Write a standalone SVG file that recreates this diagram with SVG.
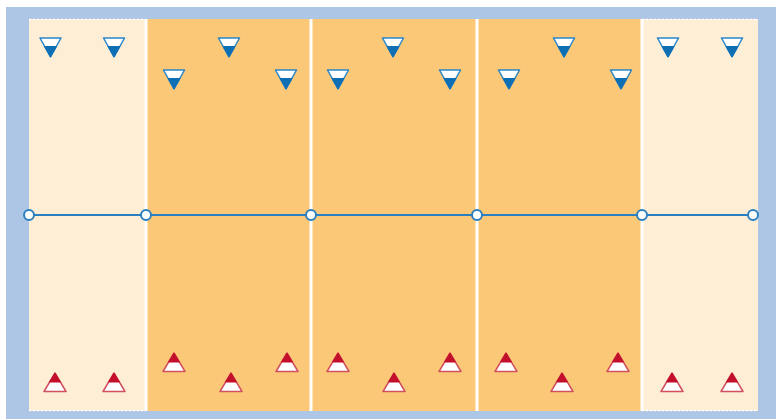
<svg xmlns="http://www.w3.org/2000/svg" width="776" height="419" viewBox="0 0 776 419">
<style>
.light{fill:#fdeed5}
.orange{fill:#fbc877}
.sep{stroke:#ffffff;stroke-width:3}
.dots{stroke:#ffffff;stroke-width:1.5;stroke-dasharray:2 2}
.rail{stroke:#2a7fc0;stroke-width:2;fill:none}
.joint{fill:#ffffff;stroke:#2a7fc0;stroke-width:2}
</style>
<defs>
<g id="down">
<polygon points="-10.5,-9 10.5,-9 0,10" fill="#ffffff" stroke="#2a86c8" stroke-width="1.5" stroke-linejoin="round"/>
<polygon points="-6,-0.5 6,-0.5 0,10" fill="#0f6fb5" stroke="#0f6fb5" stroke-width="1"/>
</g>
<g id="up">
<polygon points="-11,9.5 11,9.5 0,-9" fill="#ffffff" stroke="#d2505e" stroke-width="1.5" stroke-linejoin="round"/>
<polygon points="-5.5,0 5.5,0 0,-9" fill="#c30f2a" stroke="#c30f2a" stroke-width="1"/>
</g>
</defs>
<rect x="0" y="0" width="776" height="419" fill="#ffffff"/>
<rect x="6" y="7" width="770" height="412" fill="#adc6e6"/>
<g id="panels">
<rect class="light" x="29" y="19" width="117" height="392"/>
<rect class="orange" x="146" y="19" width="165" height="392"/>
<rect class="orange" x="311" y="19" width="166" height="392"/>
<rect class="orange" x="477" y="19" width="165" height="392"/>
<rect class="light" x="642" y="19" width="116" height="392"/>
<line class="sep" x1="146" y1="19" x2="146" y2="411"/>
<line class="sep" x1="311" y1="19" x2="311" y2="411"/>
<line class="sep" x1="477" y1="19" x2="477" y2="411"/>
<line class="sep" x1="642" y1="19" x2="642" y2="411"/>
<line class="dots" x1="29" y1="19.5" x2="146" y2="19.5"/>
<line class="dots" x1="642" y1="19.5" x2="758" y2="19.5"/>
<line class="dots" x1="29" y1="410.5" x2="146" y2="410.5"/>
<line class="dots" x1="642" y1="410.5" x2="758" y2="410.5"/>
</g>
<g id="connectors">
<line class="rail" x1="29" y1="215" x2="753" y2="215"/>
</g>
<g id="joints">
<circle class="joint" cx="29" cy="215" r="5"/>
<circle class="joint" cx="146" cy="215" r="5"/>
<circle class="joint" cx="311" cy="215" r="5"/>
<circle class="joint" cx="477" cy="215" r="5"/>
<circle class="joint" cx="642" cy="215" r="5"/>
<circle class="joint" cx="753" cy="215" r="5"/>
</g>
<g id="top-markers">
<use href="#down" x="50.5" y="47"/>
<use href="#down" x="114" y="47"/>
<use href="#down" x="174" y="79"/>
<use href="#down" x="229" y="47"/>
<use href="#down" x="286" y="79"/>
<use href="#down" x="338" y="79"/>
<use href="#down" x="393" y="47"/>
<use href="#down" x="450" y="79"/>
<use href="#down" x="509" y="79"/>
<use href="#down" x="564" y="47"/>
<use href="#down" x="621" y="79"/>
<use href="#down" x="668" y="47"/>
<use href="#down" x="732" y="47"/>
</g>
<g id="bottom-markers">
<use href="#up" x="55" y="382"/>
<use href="#up" x="114" y="382"/>
<use href="#up" x="174" y="362"/>
<use href="#up" x="231" y="382"/>
<use href="#up" x="287" y="362"/>
<use href="#up" x="338" y="362"/>
<use href="#up" x="394" y="382"/>
<use href="#up" x="450" y="362"/>
<use href="#up" x="506" y="362"/>
<use href="#up" x="562" y="382"/>
<use href="#up" x="618" y="362"/>
<use href="#up" x="672" y="382"/>
<use href="#up" x="732" y="382"/>
</g>
</svg>
